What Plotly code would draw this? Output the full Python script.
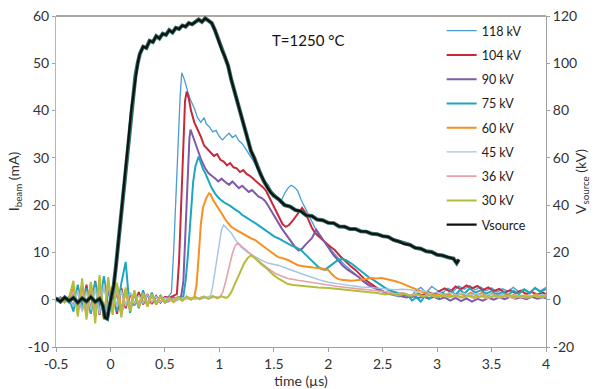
import plotly.graph_objects as go

# ---------------- data ----------------
t_base = [-0.50, -0.46, -0.42, -0.38, -0.34, -0.30, -0.26, -0.22, -0.18, -0.14, -0.10, -0.06, -0.02,
          0.02, 0.06, 0.10, 0.14, 0.18, 0.22, 0.26, 0.30, 0.34, 0.38, 0.42, 0.46, 0.50]

noise_118 = [0.3, -0.5, 0.6, -0.4, 1.5, -2.0, 2.5, -1.8, 3.0, -2.5, 3.5, -2.0, 1.5, -3.0, 2.8, -2.2, 2.0, -1.5, 1.8, -1.2, 1.5, -1.0, 1.2, -0.8, 1.0, -0.5]
noise_104 = [-0.4, 0.5, -0.3, 0.6, -1.8, 2.6, -2.2, 3.2, -2.8, 4.0, -3.2, 4.5, -2.5, 2.0, -3.0, 2.5, -1.8, 1.4, -1.2, 1.6, -1.0, 1.2, -0.9, 0.8, -0.6, 0.6]
noise_90 = [0.5, -0.3, 0.4, -0.6, 2.2, -1.5, 3.0, -2.6, 2.4, -3.5, 4.2, -3.8, 3.0, -2.0, 1.8, -3.2, 2.2, -1.6, 1.2, -1.4, 1.0, -1.2, 0.9, -0.7, 0.8, -0.5]
noise_75 = [-0.2, 0.4, -0.5, 0.3, -2.5, 3.2, -1.8, 2.5, -3.0, 3.8, -2.6, 5.0, -3.5, 2.8, -2.4, 3.5, 8.0, -2.8, 1.6, -1.8, 2.0, -1.2, 1.5, -1.0, 0.8, -0.6]
noise_60 = [0.4, -0.6, 0.3, -0.2, 3.0, -2.8, 2.0, -3.4, 3.6, -2.0, 2.8, -4.2, 4.0, -2.5, 3.2, -2.0, 1.5, -2.2, 1.4, -1.0, 1.3, -0.8, 1.0, -1.0, 0.6, -0.4]
noise_45 = [-0.5, 0.2, -0.4, 0.5, -1.5, 2.0, -2.5, 1.8, -2.2, 2.6, -3.0, 3.4, -2.8, 2.2, -1.6, 2.0, -1.4, 1.6, -1.0, 1.0, -0.8, 1.1, -0.6, 0.7, -0.5, 0.4]
noise_36 = [0.2, -0.4, 0.5, -0.3, 1.8, -2.4, 1.5, -2.0, 2.6, -2.8, 2.0, -3.0, 3.2, -1.8, 2.0, -2.6, 1.6, -1.2, 1.5, -0.9, 1.0, -0.8, 0.8, -0.6, 0.5, -0.4]
noise_30 = [-0.3, 0.3, -0.6, 0.4, 4.0, -3.6, 4.5, -4.2, 3.8, -5.0, 5.2, -4.0, 4.8, -3.2, 3.6, -3.8, 2.6, -2.4, 2.0, -1.6, 1.4, -1.5, 1.2, -0.9, 0.8, -0.6]

pulse_118 = [(0.53, 0.6), (0.56, 1.5), (0.58, 10), (0.60, 22), (0.62, 33), (0.64, 43), (0.655, 48), (0.68, 46.5),
             (0.71, 44), (0.74, 42), (0.77, 40.5), (0.80, 38.5), (0.83, 37.5), (0.86, 38.5), (0.88, 37.2), (0.91, 36.5),
             (0.94, 35.5), (0.97, 35.8), (1.00, 34.5), (1.03, 33.8), (1.06, 34.6), (1.09, 35.2), (1.12, 34.3), (1.15, 34.8),
             (1.18, 33.6), (1.21, 33.0), (1.24, 32.0), (1.27, 31.0), (1.30, 29.8), (1.33, 28.6), (1.36, 27.2), (1.39, 26.0),
             (1.42, 25.0), (1.45, 24.3), (1.48, 23.0), (1.51, 22.2), (1.54, 21.5), (1.57, 21.0), (1.60, 22.5), (1.63, 23.6),
             (1.66, 24.2), (1.69, 23.8), (1.72, 23.0), (1.75, 21.2), (1.78, 19.8), (1.81, 18.6), (1.85, 16.5), (1.90, 14.2),
             (1.95, 12.6), (2.00, 11.2), (2.05, 9.8), (2.10, 8.6), (2.15, 7.4), (2.20, 6.4), (2.25, 5.3), (2.30, 4.4),
             (2.35, 3.6), (2.40, 2.8), (2.45, 2.2), (2.50, 1.7), (2.55, 1.2), (2.60, 0.9), (2.65, 0.6), (2.70, 1.4),
             (2.75, 0.4), (2.80, 1.8), (2.85, 2.6), (2.90, 1.5), (2.95, 2.8), (3.00, 2.0), (3.05, 1.4), (3.10, 2.4),
             (3.15, 1.8), (3.20, 2.9), (3.25, 2.2), (3.30, 3.0), (3.35, 2.1), (3.40, 2.7), (3.45, 1.9), (3.50, 2.5),
             (3.55, 1.6), (3.60, 2.3), (3.65, 1.8), (3.70, 2.6), (3.75, 1.7), (3.80, 2.2), (3.85, 1.5), (3.90, 2.4),
             (3.95, 1.9), (4.00, 2.6)]

pulse_104 = [(0.54, 0.4), (0.58, 0.9), (0.61, 1.2), (0.63, 8), (0.65, 22), (0.67, 35), (0.685, 42), (0.70, 44),
             (0.72, 42.5), (0.74, 40), (0.77, 37.5), (0.80, 36), (0.83, 34.5), (0.86, 32.6), (0.89, 31.8), (0.92, 31.2),
             (0.95, 30.4), (0.98, 30.8), (1.01, 29.6), (1.04, 29.2), (1.07, 28.4), (1.10, 28.9), (1.13, 28.0), (1.16, 27.8),
             (1.19, 27.0), (1.22, 27.4), (1.25, 26.6), (1.28, 26.2), (1.31, 25.6), (1.34, 25.2), (1.37, 24.5), (1.40, 23.8),
             (1.43, 23.0), (1.46, 21.6), (1.49, 20.0), (1.52, 18.6), (1.55, 17.2), (1.58, 16.0), (1.61, 15.4), (1.64, 15.8),
             (1.67, 16.6), (1.70, 17.6), (1.73, 18.6), (1.76, 19.4), (1.79, 18.4), (1.82, 16.8), (1.85, 15.2), (1.88, 14.1),
             (1.92, 13.2), (1.97, 12.2), (2.02, 11.2), (2.06, 10.5), (2.11, 9.2), (2.16, 8.0), (2.21, 7.0), (2.25, 6.3),
             (2.30, 5.1), (2.34, 4.2), (2.39, 3.4), (2.43, 2.7), (2.48, 2.0), (2.52, 1.6), (2.57, 1.2), (2.62, 1.4),
             (2.67, 0.8), (2.72, 1.1), (2.77, 0.6), (2.82, 1.3), (2.87, 0.9), (2.92, 1.6), (2.97, 1.1), (3.02, 1.8),
             (3.07, 2.4), (3.12, 1.7), (3.17, 2.8), (3.22, 2.2), (3.27, 3.0), (3.32, 2.4), (3.37, 2.9), (3.42, 2.0),
             (3.47, 2.6), (3.52, 1.8), (3.57, 2.3), (3.62, 1.5), (3.67, 2.0), (3.72, 1.4), (3.77, 1.9), (3.82, 1.2),
             (3.87, 1.6), (3.92, 1.1), (3.97, 1.5), (4.00, 1.2)]

pulse_90 = [(0.54, -0.3), (0.58, 0.5), (0.62, 0.2), (0.65, 0.8), (0.67, 4), (0.69, 14), (0.71, 27), (0.725, 34),
            (0.735, 36), (0.75, 35), (0.78, 33), (0.81, 31.2), (0.835, 29.5), (0.87, 27.8), (0.90, 26.8), (0.93, 26.2),
            (0.96, 25.7), (0.99, 25.0), (1.02, 25.6), (1.055, 24.9), (1.09, 24.3), (1.12, 25.0), (1.15, 24.2), (1.18, 23.6),
            (1.21, 24.1), (1.24, 23.4), (1.27, 22.8), (1.30, 23.2), (1.33, 22.4), (1.36, 21.8), (1.39, 21.5), (1.42, 20.9),
            (1.45, 19.8), (1.48, 18.6), (1.51, 17.4), (1.54, 16.2), (1.57, 15.2), (1.60, 14.2), (1.63, 13.3), (1.66, 12.2),
            (1.70, 11.0), (1.73, 10.4), (1.76, 10.8), (1.79, 11.6), (1.82, 12.3), (1.85, 13.0), (1.89, 14.8), (1.92, 13.8),
            (1.95, 12.8), (1.98, 11.6), (2.01, 10.6), (2.05, 9.4), (2.09, 8.4), (2.13, 7.3), (2.18, 6.3), (2.23, 5.5),
            (2.28, 4.8), (2.32, 3.9), (2.37, 3.1), (2.42, 2.5), (2.46, 2.1), (2.51, 1.7), (2.55, 1.4), (2.61, 1.1),
            (2.67, 0.9), (2.72, 0.5), (2.77, 0.9), (2.82, 0.3), (2.87, 0.7), (2.92, 0.2), (2.97, 0.6), (3.02, 0.1),
            (3.07, 0.5), (3.12, -0.2), (3.17, 0.4), (3.22, -0.3), (3.27, 0.3), (3.32, -0.4), (3.37, 0.2), (3.42, -0.2),
            (3.47, 0.4), (3.52, 0.0), (3.57, 0.5), (3.62, 0.1), (3.67, 0.6), (3.72, 0.2), (3.77, 0.5), (3.82, 0.1),
            (3.87, 0.6), (3.92, 0.2), (3.97, 0.5), (4.00, 0.3)]

pulse_75 = [(0.54, 0.5), (0.58, -0.4), (0.62, 0.6), (0.65, 0.2), (0.67, 0.8), (0.69, 4), (0.71, 9), (0.72, 12),
            (0.74, 19), (0.76, 25), (0.78, 28.2), (0.80, 30.0), (0.81, 30.3), (0.83, 29.0), (0.85, 27.6), (0.87, 26.8),
            (0.90, 25.0), (0.93, 23.6), (0.96, 22.5), (0.99, 21.6), (1.02, 21.0), (1.055, 20.4), (1.09, 20.0), (1.12, 19.4),
            (1.15, 19.0), (1.18, 18.6), (1.21, 17.9), (1.24, 17.5), (1.27, 17.0), (1.30, 16.6), (1.33, 16.2), (1.36, 15.7),
            (1.39, 15.2), (1.42, 14.7), (1.45, 14.3), (1.48, 13.8), (1.51, 13.3), (1.54, 13.0), (1.57, 12.6), (1.61, 12.2),
            (1.65, 11.6), (1.70, 11.1), (1.75, 10.5), (1.78, 9.8), (1.82, 9.0), (1.86, 8.0), (1.91, 6.9), (1.94, 6.5),
            (1.97, 6.3), (2.00, 6.8), (2.03, 7.3), (2.06, 7.9), (2.09, 8.4), (2.13, 8.6), (2.16, 8.4), (2.21, 7.7),
            (2.25, 7.0), (2.28, 6.3), (2.33, 5.5), (2.37, 4.8), (2.42, 4.1), (2.46, 3.5), (2.51, 2.8), (2.55, 2.1),
            (2.60, 1.7), (2.64, 1.4), (2.69, 1.1), (2.73, 1.0), (2.77, -0.2), (2.81, 0.6), (2.85, -0.4), (2.89, 0.9),
            (2.93, 0.2), (2.97, 1.2), (3.01, 0.4), (3.05, 1.5), (3.09, 0.8), (3.13, 1.8), (3.17, 1.0), (3.21, 2.1),
            (3.25, 1.3), (3.30, 2.4), (3.35, 1.5), (3.40, 2.0), (3.45, 1.3), (3.50, 1.8), (3.55, 1.1), (3.60, 1.6),
            (3.65, 1.0), (3.70, 1.9), (3.75, 1.2), (3.80, 2.2), (3.85, 1.4), (3.90, 2.5), (3.95, 1.6), (4.00, 2.3)]

pulse_60 = [(0.54, 0.3), (0.58, -0.5), (0.62, 0.4), (0.66, -0.2), (0.70, 0.5), (0.74, 0.2), (0.77, 0.6), (0.79, 3),
            (0.81, 9), (0.83, 16), (0.85, 19.5), (0.88, 21.5), (0.905, 22.5), (0.92, 22.3), (0.94, 21.2), (0.96, 20.4),
            (0.99, 19.3), (1.02, 18.3), (1.06, 16.8), (1.11, 15.4), (1.15, 14.8), (1.20, 14.1), (1.25, 13.4), (1.29, 13.0),
            (1.33, 12.6), (1.37, 11.8), (1.41, 11.2), (1.45, 10.5), (1.49, 9.8), (1.54, 9.0), (1.58, 8.8), (1.63, 8.4),
            (1.68, 7.8), (1.72, 7.3), (1.77, 7.1), (1.82, 6.9), (1.86, 6.8), (1.91, 6.7), (1.95, 6.5), (2.00, 6.3),
            (2.03, 5.5), (2.06, 4.8), (2.09, 4.4), (2.12, 4.2), (2.17, 4.1), (2.21, 4.0), (2.26, 4.1), (2.30, 4.2),
            (2.35, 4.4), (2.39, 4.6), (2.44, 4.5), (2.49, 4.6), (2.53, 4.4), (2.58, 4.2), (2.62, 3.9), (2.67, 3.5),
            (2.71, 3.1), (2.76, 2.7), (2.81, 2.1), (2.86, 1.6), (2.91, 1.2), (2.96, 0.9), (3.01, 1.2), (3.06, 0.7),
            (3.11, 1.1), (3.16, 0.6), (3.21, 1.3), (3.26, 0.8), (3.31, 1.5), (3.36, 0.9), (3.41, 1.4), (3.46, 0.8),
            (3.51, 1.3), (3.56, 0.7), (3.61, 1.2), (3.66, 0.6), (3.71, 1.1), (3.76, 0.5), (3.81, 1.0), (3.86, 0.6),
            (3.91, 1.2), (3.96, 0.8), (4.00, 1.1)]

pulse_45 = [(0.54, 0.2), (0.60, -0.3), (0.66, 0.4), (0.72, 0.1), (0.78, 0.5), (0.84, 0.2), (0.89, 0.6), (0.92, 0.8),
            (0.94, 3), (0.96, 6), (0.98, 9.5), (1.00, 12.5), (1.02, 14.8), (1.04, 15.8), (1.07, 15.0), (1.11, 14.1),
            (1.15, 12.6), (1.20, 11.1), (1.26, 10.0), (1.33, 9.0), (1.39, 8.3), (1.45, 7.7), (1.54, 7.3), (1.62, 6.6),
            (1.70, 5.9), (1.77, 5.3), (1.84, 4.8), (1.92, 4.2), (2.00, 3.7), (2.08, 3.4), (2.16, 3.1), (2.23, 2.9),
            (2.30, 2.7), (2.38, 2.6), (2.46, 2.5), (2.53, 2.3), (2.61, 2.1), (2.68, 2.2), (2.76, 2.1), (2.82, 1.6),
            (2.88, 1.9), (2.94, 1.3), (3.00, 1.6), (3.06, 1.1), (3.12, 1.5), (3.18, 1.0), (3.24, 1.4), (3.30, 0.9),
            (3.36, 1.3), (3.42, 0.8), (3.48, 1.2), (3.54, 0.8), (3.60, 1.1), (3.66, 0.7), (3.72, 1.0), (3.78, 0.6),
            (3.84, 1.0), (3.90, 0.7), (3.96, 1.1), (4.00, 0.9)]

pulse_36 = [(0.54, -0.2), (0.60, 0.4), (0.66, 0.0), (0.72, 0.5), (0.78, 0.1), (0.84, 0.6), (0.90, 0.2), (0.96, 0.6),
            (1.00, 0.5), (1.03, 1.5), (1.06, 4), (1.09, 7), (1.12, 9.8), (1.145, 11.4), (1.17, 12.0), (1.20, 11.4),
            (1.24, 10.6), (1.27, 9.9), (1.33, 8.8), (1.39, 7.7), (1.45, 6.6), (1.51, 5.6), (1.57, 5.0), (1.63, 4.5),
            (1.72, 4.1), (1.82, 3.7), (1.91, 3.4), (2.00, 3.1), (2.09, 2.8), (2.18, 2.5), (2.28, 2.3), (2.37, 2.1),
            (2.46, 1.8), (2.55, 1.6), (2.62, 1.2), (2.68, 1.5), (2.74, 0.9), (2.80, 1.3), (2.86, 0.7), (2.92, 1.1),
            (2.98, 0.6), (3.04, 1.0), (3.10, 0.5), (3.16, 0.9), (3.22, 0.4), (3.28, 0.8), (3.34, 0.3), (3.40, 0.7),
            (3.46, 0.3), (3.52, 0.7), (3.58, 0.4), (3.64, 0.8), (3.70, 0.3), (3.76, 0.7), (3.82, 0.4), (3.88, 0.8),
            (3.94, 0.5), (4.00, 0.7)]

pulse_30 = [(0.54, 0.4), (0.58, -0.4), (0.62, 0.6), (0.66, -0.1), (0.70, 0.7), (0.74, 0.0), (0.78, 0.6), (0.82, 0.1),
            (0.86, 0.7), (0.90, 0.2), (0.94, 0.8), (0.98, 0.3), (1.02, 0.7), (1.06, 0.4), (1.08, 0.6), (1.11, 1.6),
            (1.14, 3.2), (1.17, 4.8), (1.20, 6.3), (1.23, 7.8), (1.26, 8.8), (1.29, 9.4), (1.32, 8.9), (1.35, 8.2),
            (1.38, 7.6), (1.42, 6.9), (1.46, 6.0), (1.50, 5.2), (1.54, 4.5), (1.58, 3.9), (1.63, 3.3), (1.68, 3.1),
            (1.75, 2.9), (1.82, 2.7), (1.91, 2.6), (2.00, 2.5), (2.09, 2.3), (2.18, 2.1), (2.28, 1.9), (2.37, 1.6),
            (2.45, 1.4), (2.52, 1.1), (2.58, 1.3), (2.64, 0.9), (2.70, 1.2), (2.76, 0.8), (2.82, 1.1), (2.88, 0.7),
            (2.94, 1.0), (3.00, 0.6), (3.06, 1.0), (3.12, 0.6), (3.18, 0.9), (3.24, 0.5), (3.30, 0.9), (3.36, 0.5),
            (3.42, 0.8), (3.48, 0.5), (3.54, 0.9), (3.60, 0.6), (3.66, 1.0), (3.72, 0.6), (3.78, 0.9), (3.84, 0.5),
            (3.90, 0.9), (3.96, 0.6), (4.00, 0.8)]

vsource = [(-0.50, 0.6), (-0.46, -0.8), (-0.42, 1.0), (-0.38, -0.5), (-0.34, 0.8), (-0.30, -1.2), (-0.26, 0.6),
           (-0.22, -0.7), (-0.18, 1.1), (-0.14, -0.9), (-0.10, 0.4), (-0.07, -2.5), (-0.05, -7.5), (-0.03, -8.0),
           (-0.01, -3.0), (0.01, 1.0), (0.03, 6), (0.05, 14), (0.07, 23), (0.09, 31), (0.11, 40), (0.13, 50),
           (0.15, 61), (0.17, 70), (0.19, 80), (0.21, 87), (0.23, 95), (0.25, 100), (0.27, 104), (0.30, 107),
           (0.33, 106.5), (0.36, 109.5), (0.39, 109), (0.42, 111.5), (0.45, 110.5), (0.48, 112.5), (0.51, 112),
           (0.54, 114), (0.57, 113), (0.60, 115), (0.63, 114.5), (0.66, 116), (0.69, 115.5), (0.72, 117),
           (0.75, 116.5), (0.78, 117.5), (0.81, 118.5), (0.84, 117.5), (0.87, 119), (0.90, 118), (0.93, 117),
           (0.96, 114), (0.99, 110), (1.02, 106), (1.05, 103), (1.08, 99), (1.11, 93), (1.14, 88), (1.17, 82),
           (1.20, 77), (1.23, 72), (1.26, 68), (1.29, 63), (1.32, 60), (1.35, 56), (1.38, 53), (1.41, 50),
           (1.44, 47.5), (1.47, 45.5), (1.50, 44), (1.55, 42.3), (1.60, 40.0), (1.65, 39.4), (1.70, 37.9),
           (1.75, 37.4), (1.80, 35.6), (1.85, 35.4), (1.90, 33.9), (1.95, 33.6), (2.00, 32.5), (2.05, 32.4),
           (2.10, 31.0), (2.15, 30.9), (2.20, 29.9), (2.25, 29.9), (2.30, 28.9), (2.35, 28.8), (2.40, 27.9),
           (2.45, 27.7), (2.50, 26.9), (2.55, 26.6), (2.60, 25.3), (2.65, 24.6), (2.70, 23.5), (2.75, 23.2),
           (2.80, 21.9), (2.85, 21.6), (2.90, 20.5), (2.95, 20.2), (3.00, 19.0), (3.05, 18.7), (3.10, 17.9),
           (3.15, 17.4), (3.18, 15.5), (3.20, 17.0)]

series_names = ["118 kV", "104 kV", "90 kV", "75 kV", "60 kV", "45 kV", "36 kV", "30 kV"]
series_noise = [noise_118, noise_104, noise_90, noise_75, noise_60, noise_45, noise_36, noise_30]
series_pulse = [pulse_118, pulse_104, pulse_90, pulse_75, pulse_60, pulse_45, pulse_36, pulse_30]
series_colors = ["#4B9CD3", "#C62A3A", "#7F5AA8", "#1EA6BF", "#F7901E", "#A3C4E6", "#E6A2A8", "#B3BE3C"]
series_widths = [1.3, 2.0, 2.0, 2.0, 2.0, 1.4, 1.6, 2.0]

x_ticks = [-0.5, 0, 0.5, 1, 1.5, 2, 2.5, 3, 3.5, 4]
x_ticktext = ["-0.5", "0", "0.5", "1", "1.5", "2", "2.5", "3", "3.5", "4"]
y_ticks = [-10, 0, 10, 20, 30, 40, 50, 60]
y_ticktext = ["-10", "0", "10", "20", "30", "40", "50", "60"]
y2_ticks = [-20, 0, 20, 40, 60, 80, 100, 120]
y2_ticktext = ["-20", "0", "20", "40", "60", "80", "100", "120"]

# ---------------- figure ----------------
FONT = "Lato, 'Open Sans', sans-serif"
fig = go.Figure()

for name, nz, pl, col, w in zip(series_names, series_noise, series_pulse, series_colors, series_widths):
    tx = t_base + [p[0] for p in pl]
    iy = nz + [p[1] for p in pl]
    fig.add_trace(go.Scatter(x=tx, y=iy, mode="lines", name=name, legendgroup=name,
                             line=dict(color=col, width=w), yaxis="y"))

vt = [p[0] for p in vsource]
vv = [p[1] for p in vsource]
fig.add_trace(go.Scatter(x=vt, y=vv, mode="lines", showlegend=False, hoverinfo="skip", legendgroup="Vsource",
                         line=dict(color="#2F6E66", width=4.0), yaxis="y2"))
fig.add_trace(go.Scatter(x=vt, y=vv, mode="lines", name="Vsource", legendgroup="Vsource",
                         line=dict(color="#111111", width=2.2), yaxis="y2"))

axis_col = "#A0A0A0"
fig.update_layout(
    width=595, height=389,
    margin=dict(l=56, r=49, t=16, b=42, autoexpand=False),
    paper_bgcolor="white", plot_bgcolor="white",
    font=dict(family=FONT, size=13, color="#333333"),
    showlegend=True,
    legend=dict(x=0.787, y=1.0, xanchor="left", yanchor="top",
                bgcolor="rgba(0,0,0,0)", font=dict(family=FONT, size=12.5, color="#1A1A1A"),
                tracegroupgap=5, itemwidth=30),
    xaxis=dict(range=[-0.5, 4], tickvals=x_ticks, ticktext=x_ticktext, automargin=False,
               showgrid=False, zeroline=False, showline=True, linecolor=axis_col, linewidth=1,
               ticks="outside", ticklen=4, tickcolor=axis_col,
               tickfont=dict(size=14, color="#333333"),
               title=dict(text="time (µs)", font=dict(size=14, color="#333333"), standoff=2)),
    yaxis=dict(range=[-10, 60], tickvals=y_ticks, ticktext=y_ticktext, automargin=False,
               showgrid=False, zeroline=False, showline=True, linecolor="#A9B8CC", linewidth=1,
               ticks="outside", ticklen=3, tickcolor=axis_col,
               tickfont=dict(size=14, color="#333333"),
               title=dict(text="I<sub>beam</sub> (mA)", font=dict(size=14, color="#333333"), standoff=4)),
    yaxis2=dict(range=[-20, 120], tickvals=y2_ticks, ticktext=y2_ticktext, overlaying="y", side="right",
                automargin=False,
                showgrid=False, zeroline=False, showline=True, linecolor=axis_col, linewidth=1,
                ticks="outside", ticklen=3, tickcolor=axis_col,
                tickfont=dict(size=14, color="#333333"),
                title=dict(text="V<sub>source</sub> (kV)", font=dict(size=14, color="#333333"), standoff=0)),
    annotations=[dict(text="T=1250 °C", xref="paper", yref="paper", x=0.514, y=0.96,
                      showarrow=False, font=dict(family=FONT, size=15, color="#111111"))],
    shapes=[dict(type="line", xref="paper", yref="paper", x0=0, x1=1, y0=1, y1=1,
                 line=dict(color="#5A5048", width=1.2))],
)

fig.write_html("out.html", config={"displayModeBar": False},
               post_script="document.body.style.margin='0';document.body.style.overflow='hidden';")
